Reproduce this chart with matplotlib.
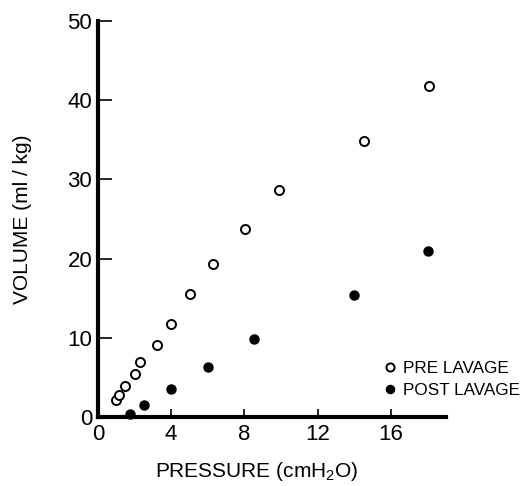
import numpy as np
import matplotlib
matplotlib.use('Agg')
import matplotlib.pyplot as plt

# pressure (cmH2O) / volume (ml/kg)
pre_pressure = [0.98, 1.13, 1.5, 2.04, 2.29, 3.25, 4.0, 5.02, 6.29, 8.05, 9.9, 14.5, 18.07]
pre_volume = [2.1, 2.8, 3.95, 5.4, 7.0, 9.05, 11.8, 15.5, 19.3, 23.7, 28.7, 34.9, 41.8]
post_pressure = [1.75, 2.53, 4.0, 6.0, 8.5, 14.0, 18.0]
post_volume = [0.4, 1.5, 3.5, 6.35, 9.8, 15.4, 21.0]

x_ticks = [0, 4, 8, 12, 16]
y_ticks = [0, 10, 20, 30, 40, 50]

plt.rcParams['font.family'] = ['Liberation Sans', 'DejaVu Sans']
plt.rcParams['mathtext.default'] = 'regular'

fig = plt.figure(figsize=(5.29, 4.86), dpi=100)
ax = fig.add_axes([0.185, 0.142, 0.658, 0.815])

ax.plot(pre_pressure, pre_volume, 'o', ms=6.5, mfc='white', mec='black', mew=1.4,
        label='PRE LAVAGE', clip_on=False)
ax.plot(post_pressure, post_volume, 'o', ms=6.5, mfc='black', mec='black', mew=1.0,
        label='POST LAVAGE', clip_on=False)

ax.set_xlim(0, 19)
ax.set_ylim(0, 50)
ax.set_xticks(x_ticks)
ax.set_yticks(y_ticks)
ax.spines['top'].set_visible(False)
ax.spines['right'].set_visible(False)
ax.spines['left'].set_linewidth(3)
ax.spines['bottom'].set_linewidth(3)
ax.tick_params(axis='y', direction='in', length=10, width=1.2, labelsize=16, pad=4)
ax.tick_params(axis='x', direction='in', length=6, width=1.2, labelsize=16, pad=5)

ax.set_xlabel('PRESSURE (cmH$_2$O)', fontsize=15)
ax.set_ylabel('VOLUME (ml / kg)', fontsize=15)
ax.xaxis.set_label_coords(0.455, -0.108)
ax.yaxis.set_label_coords(-0.19, 0.5)

ax.legend(loc='center left', bbox_to_anchor=(0.79, 0.095), frameon=False, fontsize=12.3,
          handletextpad=0.25, labelspacing=0.4, markerscale=0.9, handlelength=1.0,
          borderpad=0)

fig.savefig('out.png', dpi=100)
